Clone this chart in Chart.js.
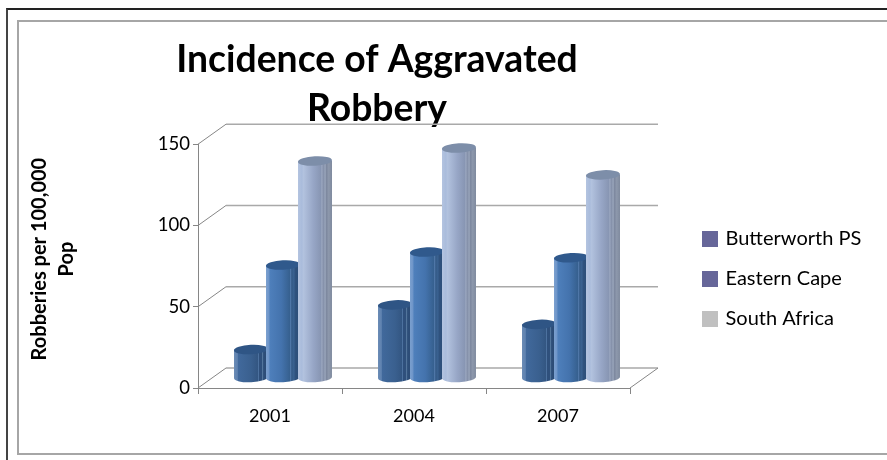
<!DOCTYPE html>
<html lang="en">
<head>
<meta charset="UTF-8">
<title>Incidence of Aggravated Robbery</title>
<script src="https://cdn.jsdelivr.net/npm/chart.js@4/dist/chart.umd.js"></script>
<style>
  html, body { margin: 0; padding: 0; background: #fff; overflow: hidden; }
  #outerFrame { position: absolute; left: 6px; top: 8px; width: 881px; height: 452px; border-top: 2px solid #222; border-left: 2px solid #444; box-sizing: border-box; }
  #innerFrame { position: absolute; left: 17px; top: 20px; width: 870px; height: 435px; border: 2px solid #a6a6a6; border-right: none; box-sizing: border-box; }
  #myChart { position: absolute; left: 0; top: 0; }
</style>
</head>
<body>
<div id="outerFrame"></div>
<div id="innerFrame"></div>
<canvas id="myChart" width="887" height="460"></canvas>
<script>
const years = ['2001', '2004', '2007'];
const butterworth = [17.5, 45, 33];
const easternCape = [69.5, 77.5, 74];
const southAfrica = [133.5, 141.5, 125];
const yTicks = [0, 50, 100, 150];
const chartTitle = ['Incidence of Aggravated', 'Robbery'];
const yTitle = ['Robberies per 100,000', 'Pop'];

const depthX = 28, depthY = 20; // back wall offset from the front plane
const axisGrey = '#868686', wallGrey = '#a9a9a9';

// left to right colours of each cylinder, the stripes are the facets of the 3d bar
const cylinderStops = [
  [[0, '#6a8bb5'], [.1, '#5f82b0'], [.12, '#41699c'], [.5, '#3a608f'], [.7, '#335682'], [.72, '#4d72a0'], [.75, '#2f507c'], [.82, '#2f507c'], [.84, '#56799f'], [.87, '#2e4f7a'], [1, '#2b4a73']],
  [[0, '#7ba0cf'], [.08, '#6f96c9'], [.12, '#4e7fbb'], [.45, '#4473ad'], [.7, '#36608f'], [.72, '#4f77a8'], [.76, '#345a87'], [.82, '#3a6291'], [.86, '#2f527e'], [1, '#2c4d77']],
  [[0, '#b4c4e0'], [.12, '#a9bbdb'], [.15, '#b3c3df'], [.45, '#97a6c6'], [.68, '#8795b2'], [.7, '#a0acc4'], [.74, '#828ea8'], [.8, '#98a4ba'], [.84, '#7d889f'], [.9, '#8d98ac'], [1, '#7f8a9e']]
];
const cylinderTops = ['#2f5585', '#30598c', '#7d8ea9'];

function drawCylinder(ctx, bar, stops, topColor) {
  const cx = bar.x + depthX / 2 - 1, rx = bar.width / 2 + 1, ry = 4.7, tilt = -0.05;
  const topY = bar.y - depthY / 2, baseY = bar.base - depthY / 2;
  const grad = ctx.createLinearGradient(cx - rx, 0, cx + rx, 0);
  stops.forEach(s => grad.addColorStop(s[0], s[1]));
  ctx.beginPath();
  ctx.ellipse(cx, baseY, rx, ry, tilt, 0, Math.PI);
  ctx.lineTo(cx - rx, topY);
  ctx.lineTo(cx + rx, topY);
  ctx.closePath();
  ctx.fillStyle = grad;
  ctx.fill();
  ctx.beginPath();
  ctx.ellipse(cx, topY, rx, ry, tilt, 0, Math.PI * 2);
  ctx.fillStyle = topColor;
  ctx.fill();
}

const wall3d = {
  id: 'wall3d',
  afterLayout(chart) {
    // title sits over the plot, off the canvas centre
    chart.titleBlock.left = 0;
    chart.titleBlock.right = 754;
    const lg = chart.legend;
    lg.left = 704.5 - lg.options.labels.padding; lg.right = lg.left + lg.width;
    lg.top = 157; lg.bottom = lg.top + lg.height;
    const s = chart.scales.y;
    if (!s._shifted) {
      const orig = s.drawTitle;
      s.drawTitle = function () {
        chart.ctx.save();
        chart.ctx.translate(0, -7);
        orig.call(this);
        chart.ctx.restore();
      };
      s._shifted = true;
    }
  },
  beforeDatasetsDraw(chart) {
    const ctx = chart.ctx, a = chart.chartArea, y = chart.scales.y;
    ctx.save();
    yTicks.forEach(t => {
      const py = y.getPixelForValue(t);
      ctx.strokeStyle = axisGrey;
      ctx.lineWidth = 1;
      ctx.beginPath();
      ctx.moveTo(a.left, py);
      ctx.lineTo(a.left + depthX, py - depthY);
      ctx.stroke();
      ctx.strokeStyle = wallGrey;
      ctx.lineWidth = 1.5;
      ctx.beginPath();
      ctx.moveTo(a.left + depthX, py - depthY);
      ctx.lineTo(a.right + depthX, py - depthY);
      ctx.stroke();
    });
    ctx.strokeStyle = axisGrey;
    ctx.lineWidth = 1;
    ctx.beginPath();
    ctx.moveTo(a.right, a.bottom);
    ctx.lineTo(a.right + depthX, a.bottom - depthY);
    ctx.stroke();
    // first series first, each next one overlaps the one before
    chart.data.datasets.forEach((ds, i) => {
      chart.getDatasetMeta(i).data.forEach(bar => drawCylinder(ctx, bar, cylinderStops[i], cylinderTops[i]));
    });
    ctx.restore();
    return false; // the default flat bars are not drawn
  }
};

new Chart(document.getElementById('myChart'), {
  type: 'bar',
  data: {
    labels: years,
    datasets: [
      { label: 'Butterworth PS', data: butterworth, backgroundColor: '#666699' },
      { label: 'Eastern Cape', data: easternCape, backgroundColor: '#666699' },
      { label: 'South Africa', data: southAfrica, backgroundColor: '#c0c0c0' }
    ]
  },
  plugins: [wall3d],
  options: {
    responsive: false,
    animation: false,
    categoryPercentage: 2 / 3,
    barPercentage: 1,
    layout: { padding: { left: 26.5, right: 257, top: 0, bottom: 22 } },
    plugins: {
      tooltip: { enabled: false },
      title: {
        display: true,
        text: chartTitle,
        color: '#000',
        font: { family: 'Lato', size: 37.3, weight: 'bold', lineHeight: 1.33 },
        padding: { top: 35, bottom: 10 }
      },
      legend: {
        position: 'chartArea',
        labels: {
          color: '#000',
          font: { family: 'Lato', size: 20 },
          usePointStyle: true,
          pointStyle: 'rect',
          boxWidth: 11, // narrower than the swatch, pulls the text in
          boxHeight: 16,
          padding: 20
        }
      }
    },
    scales: {
      x: {
        afterFit(s) { s.height = 50; },
        grid: { color: axisGrey, drawOnChartArea: false, tickLength: 6 },
        border: { color: axisGrey },
        ticks: { color: '#000', padding: 11, font: { family: 'Lato', size: 18 } }
      },
      y: {
        min: 0,
        max: 150,
        afterFit(s) { s.width = 171.5; },
        grid: { color: axisGrey, drawOnChartArea: false, tickLength: 5 },
        border: { color: axisGrey },
        ticks: { color: '#000', padding: 3, stepSize: 50, font: { family: 'Lato', size: 18.5 } },
        title: {
          display: true,
          text: yTitle,
          color: '#000',
          font: { family: 'Lato', size: 20, weight: 'bold', lineHeight: 1.35 },
          padding: { top: 0, bottom: 0 }
        }
      }
    }
  }
});
</script>
</body>
</html>
